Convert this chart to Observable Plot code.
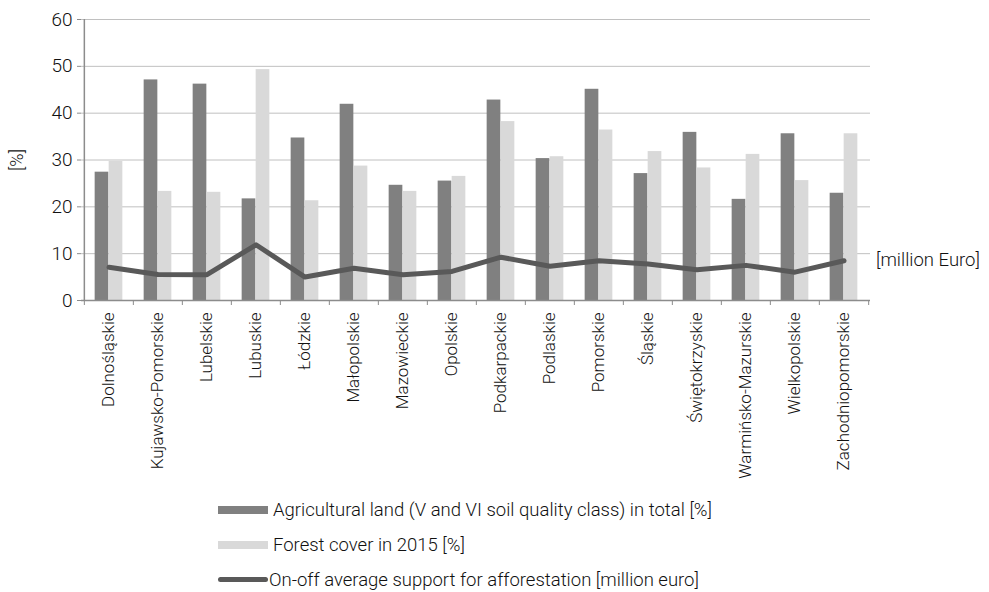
<!DOCTYPE html>
<html>
<head>
<meta charset="utf-8">
<script src="https://cdn.jsdelivr.net/npm/d3@7"></script>
<script src="https://cdn.jsdelivr.net/npm/@observablehq/plot@0.6"></script>
<style>
  html, body { margin: 0; padding: 0; background: #fff; }
  body { width: 989px; height: 592px; overflow: hidden; font-family: Roboto, "Noto Sans", sans-serif; font-weight: 300; color: #111; }
  #legend { position: relative; padding-top: 12px; padding-left: 218px; }
  .row { height: 35px; display: flex; align-items: center; font-size: 18.5px; }
  .sw { width: 50px; height: 8px; margin-right: 5px; }
  .ln { width: 50px; height: 5px; border-radius: 3px; margin-right: 1px; background: #595959; }
</style>
</head>
<body>
<div id="chart"></div>
<div id="legend"></div>
<script>
const regions = ["Dolnośląskie","Kujawsko-Pomorskie","Lubelskie","Lubuskie","Łódzkie","Małopolskie","Mazowieckie","Opolskie","Podkarpackie","Podlaskie","Pomorskie","Śląskie","Świętokrzyskie","Warmińsko-Mazurskie","Wielkopolskie","Zachodniopomorskie"];
const agricultural = [27.4, 47.1, 46.2, 21.7, 34.7, 41.9, 24.6, 25.5, 42.8, 30.3, 45.1, 27.1, 35.9, 21.6, 35.6, 22.9];
const forest = [29.7, 23.3, 23.1, 49.3, 21.3, 28.7, 23.3, 26.5, 38.2, 30.7, 36.4, 31.8, 28.3, 31.2, 25.6, 35.6];
const support = [7.1, 5.55, 5.5, 11.9, 5.0, 6.9, 5.5, 6.2, 9.25, 7.3, 8.5, 7.8, 6.55, 7.5, 6.05, 8.5];
const yTicks = [0, 10, 20, 30, 40, 50, 60];
const seriesNames = ["Agricultural land (V and VI soil quality class) in total [%]", "Forest cover in 2015 [%]", "On-off average support for afforestation [million euro]"];
const yLabel = "[%]";
const rightLabel = "[million Euro]";

const rows = regions.map((r, i) => ({region: r, agri: agricultural[i], forest: forest[i], support: support[i]}));

const W = 989, H = 480, ML = 81, MR = 119, MT = 19, MB = 180;
const bw = (W - ML - MR) / regions.length;
const barW = 14;
const pad = (bw - 2 * barW) / 2;

const chart = Plot.plot({
  width: W, height: H,
  marginLeft: ML, marginRight: MR, marginTop: MT, marginBottom: MB,
  style: {fontFamily: "Roboto, sans-serif", fontWeight: 300, fontSize: "17px", color: "#111", background: "#fff", overflow: "visible"},
  x: {domain: regions, padding: 0, label: null},
  y: {domain: [0, 60], label: null},
  marks: [
    Plot.gridY(yTicks.slice(1), {stroke: "#c0c0c0", strokeOpacity: 1, strokeWidth: 1}),
    Plot.barY(rows, {x: "region", y: "agri", fill: "#808080", insetLeft: pad, insetRight: pad + barW}),
    Plot.barY(rows, {x: "region", y: "forest", fill: "#d9d9d9", insetLeft: pad + barW, insetRight: pad}),
    Plot.line(rows, {x: "region", y: "support", stroke: "#595959", strokeWidth: 5, strokeLinecap: "round", strokeLinejoin: "round"}),
    Plot.ruleY([0], {stroke: "#8c8c8c", strokeWidth: 1.5}),
    Plot.ruleX([regions[0]], {dx: -bw / 2, y1: 0, y2: 60, stroke: "#8c8c8c", strokeWidth: 1.5}),
    Plot.axisY({ticks: yTicks, tickSize: 4, tickPadding: 5, fontSize: 19, stroke: "#8c8c8c", label: null}),
    Plot.text([yLabel], {frameAnchor: "left", text: d => d, rotate: -90, textAnchor: "middle", dx: -64, fontSize: 18, fill: "#111"}),
    Plot.axisX({tickSize: 0, tickPadding: 12, tickRotate: -90, fontSize: 17, label: null}),
    Plot.axisX({tickSize: 5, dx: -bw / 2, tickFormat: () => "", stroke: "#8c8c8c", label: null}),
    Plot.axisX([regions[regions.length - 1]], {tickSize: 5, dx: bw / 2, tickFormat: () => "", stroke: "#8c8c8c", label: null}),
    Plot.text([rows[rows.length - 1]], {x: "region", y: "support", text: () => rightLabel, textAnchor: "start", dx: 32, dy: -1, fontSize: 18.5, fill: "#111"})
  ]
});
document.getElementById("chart").appendChild(chart);

const legend = document.getElementById("legend");
const swatches = [
  {cls: "sw", color: "#808080"},
  {cls: "sw", color: "#d9d9d9"},
  {cls: "ln", color: "#595959"}
];
seriesNames.forEach((name, i) => {
  const row = document.createElement("div");
  row.className = "row";
  const sw = document.createElement("span");
  sw.className = swatches[i].cls;
  sw.style.background = swatches[i].color;
  const t = document.createElement("span");
  t.textContent = name;
  row.appendChild(sw);
  row.appendChild(t);
  legend.appendChild(row);
});
</script>
</body>
</html>
